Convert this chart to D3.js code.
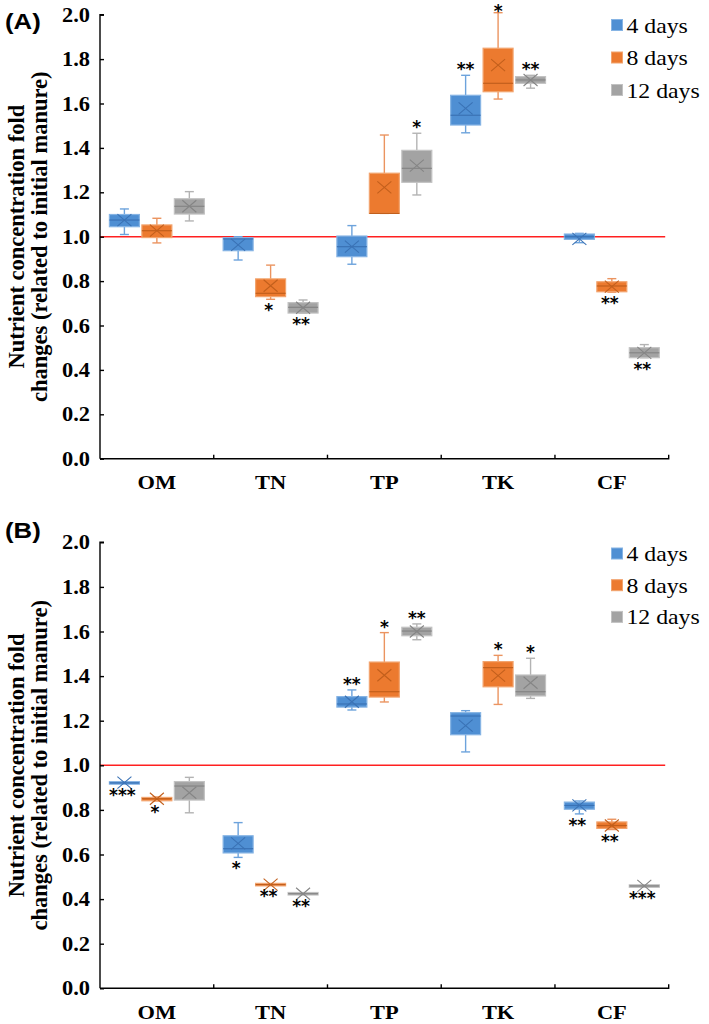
<!DOCTYPE html>
<html>
<head>
<meta charset="utf-8">
<script src="https://cdn.jsdelivr.net/npm/d3@7"></script>
<style>
html,body{margin:0;padding:0;background:#fff;}
svg{display:block;}
</style>
</head>
<body>
<svg id="chart" width="709" height="1024"></svg>
<script>
// ---------------- DATA ----------------
const categories = ["OM", "TN", "TP", "TK", "CF"];
const seriesNames = ["4 days", "8 days", "12 days"];
const yTicks = [0, 0.2, 0.4, 0.6, 0.8, 1.0, 1.2, 1.4, 1.6, 1.8, 2.0];
const refValue = 1.0;
// each entry: [min, q1, median, q3, max, mean]
const panelA_4days = [
  [1.010, 1.045, 1.075, 1.100, 1.125, 1.075],
  [0.895, 0.937, 0.990, 0.995, 1.000, 0.963],
  [0.876, 0.910, 0.955, 1.003, 1.050, 0.955],
  [1.468, 1.503, 1.547, 1.637, 1.727, 1.578],
  [0.973, 0.988, 1.000, 1.012, 1.015, 0.990]
];
const panelA_8days = [
  [0.972, 0.996, 1.027, 1.053, 1.083, 1.027],
  [0.718, 0.730, 0.745, 0.810, 0.872, 0.779],
  [1.105, 1.105, 1.105, 1.286, 1.458, 1.222],
  [1.620, 1.653, 1.691, 1.849, 2.009, 1.773],
  [0.750, 0.752, 0.778, 0.797, 0.811, 0.775]
];
const panelA_12days = [
  [1.071, 1.102, 1.137, 1.171, 1.203, 1.137],
  [0.655, 0.656, 0.682, 0.703, 0.715, 0.680],
  [1.188, 1.245, 1.308, 1.389, 1.466, 1.320],
  [1.669, 1.691, 1.706, 1.721, 1.727, 1.706],
  [0.455, 0.455, 0.477, 0.500, 0.514, 0.477]
];
const panelB_4days = [
  [0.918, 0.918, 0.921, 0.924, 0.924, 0.922],
  [0.587, 0.607, 0.626, 0.684, 0.743, 0.650],
  [1.248, 1.261, 1.275, 1.308, 1.338, 1.285],
  [1.060, 1.137, 1.221, 1.236, 1.245, 1.178],
  [0.782, 0.803, 0.820, 0.835, 0.840, 0.820]
];
const panelB_8days = [
  [0.840, 0.841, 0.850, 0.856, 0.858, 0.850],
  [0.462, 0.463, 0.465, 0.467, 0.468, 0.465],
  [1.284, 1.306, 1.330, 1.463, 1.595, 1.404],
  [1.273, 1.352, 1.438, 1.465, 1.493, 1.402],
  [0.712, 0.717, 0.730, 0.746, 0.758, 0.730]
];
const panelB_12days = [
  [0.787, 0.844, 0.907, 0.927, 0.946, 0.877],
  [0.420, 0.421, 0.424, 0.427, 0.428, 0.424],
  [1.563, 1.581, 1.602, 1.619, 1.634, 1.600],
  [1.300, 1.311, 1.330, 1.405, 1.480, 1.370],
  [0.453, 0.455, 0.459, 0.462, 0.464, 0.459]
];
// significance marks: [category, series, label, "above"/"below"]
const panelA_marks = [
  ["TN", "8 days", "*", "below"], ["TN", "12 days", "**", "below"],
  ["TP", "12 days", "*", "above"],
  ["TK", "4 days", "**", "above"], ["TK", "8 days", "*", "above"], ["TK", "12 days", "**", "above"],
  ["CF", "8 days", "**", "below"], ["CF", "12 days", "**", "below"]
];
const panelB_marks = [
  ["OM", "4 days", "***", "below"], ["OM", "8 days", "*", "below"],
  ["TN", "4 days", "*", "below"], ["TN", "8 days", "**", "below"], ["TN", "12 days", "**", "below"],
  ["TP", "4 days", "**", "above"], ["TP", "8 days", "*", "above"], ["TP", "12 days", "**", "above"],
  ["TK", "8 days", "*", "above"], ["TK", "12 days", "*", "above"],
  ["CF", "4 days", "**", "below"], ["CF", "8 days", "**", "below"], ["CF", "12 days", "***", "below"]
];
const panelLabels = ["(A)", "(B)"];
const yTitleLines = ["Nutrient concentration fold", "changes (related to initial manure)"];

// ---------------- STYLE ----------------
const fill   = {"4 days": "#4f8fd3", "8 days": "#ec7a2f", "12 days": "#a3a3a3"};
const border = {"4 days": "#86b4e4", "8 days": "#f2a46e", "12 days": "#c2c2c2"};
const dark   = {"4 days": "#3a72b5", "8 days": "#c25f1c", "12 days": "#858585"};
const whisk  = {"4 days": "#6da3dc", "8 days": "#eb9460", "12 days": "#b3b3b3"};
const serif = "'Liberation Serif', 'Times New Roman', serif";
const SX = 1.12; // horizontal widening of the reference lettering

const svg = d3.select("#chart");

function stretchedText(g, x, y, txt, opts) {
  return g.append("text")
    .attr("transform", `translate(${x},${y}) scale(${opts.sx || SX},1)`)
    .attr("text-anchor", opts.anchor || "start")
    .attr("font-family", opts.family || serif)
    .attr("font-size", opts.size)
    .attr("font-weight", opts.weight || "bold")
    .attr("fill", opts.color || "#000")
    .text(txt);
}

function drawPanel(cfg) {
  const g = svg.append("g");
  const x = d3.scaleBand().domain(categories).range([cfg.left, cfg.right]).padding(0);
  const xs = d3.scaleBand().domain(seriesNames).range([0, x.bandwidth()])
    .paddingInner(0.077).paddingOuter(0.29);
  const y = d3.scaleLinear().domain([0, 2]).range([cfg.bottom, cfg.top]);

  // red reference line
  g.append("line")
    .attr("x1", cfg.left).attr("x2", cfg.right - 3.5)
    .attr("y1", y(refValue)).attr("y2", y(refValue))
    .attr("stroke", "#ff2020").attr("stroke-width", 1.6);

  // boxes
  const bw = xs.bandwidth();
  seriesNames.forEach((s, si) => {
    const data = cfg.series[si];
    data.forEach((d, ci) => {
      const [mn, q1, md, q3, mx, mean] = d;
      const x0 = x(categories[ci]) + xs(s);
      const cx = x0 + bw / 2;
      const bg = g.append("g");
      bg.append("line").attr("x1", cx).attr("x2", cx).attr("y1", y(q3)).attr("y2", y(mx))
        .attr("stroke", whisk[s]).attr("stroke-width", 1.4);
      bg.append("line").attr("x1", cx).attr("x2", cx).attr("y1", y(q1)).attr("y2", y(mn))
        .attr("stroke", whisk[s]).attr("stroke-width", 1.4);
      bg.append("line").attr("x1", cx - 4.5).attr("x2", cx + 4.5).attr("y1", y(mx)).attr("y2", y(mx))
        .attr("stroke", whisk[s]).attr("stroke-width", 1.4);
      bg.append("line").attr("x1", cx - 4.5).attr("x2", cx + 4.5).attr("y1", y(mn)).attr("y2", y(mn))
        .attr("stroke", whisk[s]).attr("stroke-width", 1.4);
      const h = Math.max(y(q1) - y(q3), 2.5);
      bg.append("rect").attr("x", x0).attr("y", (y(q1) + y(q3)) / 2 - h / 2)
        .attr("width", bw).attr("height", h)
        .attr("fill", fill[s]).attr("stroke", border[s]).attr("stroke-width", 1.2);
      bg.append("line").attr("x1", x0).attr("x2", x0 + bw).attr("y1", y(md)).attr("y2", y(md))
        .attr("stroke", dark[s]).attr("stroke-width", 1.2);
      const ym = y(mean);
      bg.append("path")
        .attr("d", `M${cx - 7},${ym - 6}L${cx + 7},${ym + 6}M${cx - 7},${ym + 6}L${cx + 7},${ym - 6}`)
        .attr("stroke", dark[s]).attr("stroke-width", 1.1).attr("fill", "none");
    });
  });

  // significance marks
  cfg.marks.forEach(m => {
    const [cat, s, lab, pos] = m;
    const si = seriesNames.indexOf(s);
    const ci = categories.indexOf(cat);
    const d = cfg.series[si][ci];
    const cx = x(cat) + xs(s) + bw / 2 - (pos === "below" ? 2 : 0);
    let cy = pos === "above" ? y(d[4]) - 10 : y(d[0]) + 7;
    cy = Math.max(cy, 7);
    g.append("text")
      .attr("x", cx).attr("y", cy + 10)
      .attr("text-anchor", "middle")
      .attr("font-family", "'DejaVu Sans', sans-serif")
      .attr("font-weight", "bold")
      .attr("font-size", 17)
      .attr("fill", "#000")
      .text(lab);
  });

  // axes
  const yAxis = d3.axisLeft(y).tickValues(yTicks).tickSize(-4).tickFormat("");
  const ya = g.append("g").attr("transform", `translate(${cfg.left},0)`).call(yAxis);
  ya.selectAll("path,line").attr("stroke", "#000").attr("stroke-width", 1.4);
  ya.select(".domain").attr("d", `M0,${cfg.bottom}V${y(2)}h4`);
  yTicks.forEach(v => {
    stretchedText(g, cfg.left - 10, y(v) + 7, d3.format(".1f")(v), {anchor: "end", size: 20});
  });

  const xAxis = d3.axisBottom(x).tickSize(0).tickFormat("");
  const xa = g.append("g").attr("transform", `translate(0,${cfg.bottom})`).call(xAxis);
  xa.selectAll(".tick").remove();
  xa.select(".domain").attr("stroke", "#000").attr("stroke-width", 1.4)
    .attr("d", `M${cfg.left},0H${cfg.right}v-4`);
  categories.forEach((c, i) => {
    if (i > 0) {
      g.append("line").attr("x1", x(c)).attr("x2", x(c))
        .attr("y1", cfg.bottom).attr("y2", cfg.bottom - 4)
        .attr("stroke", "#000").attr("stroke-width", 1.4);
    }
    stretchedText(g, x(c) + x.bandwidth() / 2, cfg.bottom + 30.5, c, {anchor: "middle", size: 19.5, sx: 1.15});
  });

  // y title
  const yc = (cfg.top + cfg.bottom) / 2;
  yTitleLines.forEach((line, i) => {
    g.append("text")
      .attr("transform", `translate(${24 + i * 23},${yc}) rotate(-90)`)
      .attr("text-anchor", "middle")
      .attr("font-family", serif).attr("font-weight", "bold").attr("font-size", 22.5)
      .text(line);
  });

  // panel label
  stretchedText(g, 5, cfg.labelY, cfg.label, {size: 23, family: "'Liberation Sans', Arial, sans-serif"});

  // legend
  seriesNames.forEach((s, i) => {
    const ly = cfg.legendY + i * cfg.legendStep;
    g.append("rect").attr("x", 611.5).attr("y", ly - 5.5).attr("width", 11).attr("height", 11)
      .attr("fill", fill[s]).attr("stroke", border[s]).attr("stroke-width", 1);
    stretchedText(g, 626.5, ly + 7.5, s, {size: 22, weight: "normal", sx: 1.08});
  });
}

drawPanel({
  left: 100, right: 668.7, top: 14.7, bottom: 458.7,
  series: [panelA_4days, panelA_8days, panelA_12days],
  marks: panelA_marks, label: panelLabels[0], labelY: 29,
  legendY: 25, legendStep: 32.5
});
drawPanel({
  left: 100, right: 668.7, top: 542.3, bottom: 988.3,
  series: [panelB_4days, panelB_8days, panelB_12days],
  marks: panelB_marks, label: panelLabels[1], labelY: 538,
  legendY: 553.5, legendStep: 31.7
});
</script>
</body>
</html>
